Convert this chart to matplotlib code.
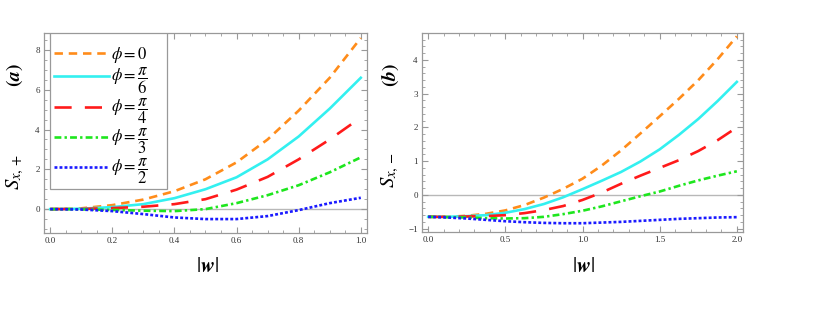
import matplotlib
matplotlib.use('Agg')
import matplotlib.pyplot as plt
from matplotlib.patches import Rectangle
from matplotlib.ticker import MultipleLocator

plt.rcParams['font.family'] = 'Liberation Serif'
plt.rcParams['mathtext.fontset'] = 'stix'

# panel (a): S_{x,+} vs |w|
w_a = [0.0, 0.1, 0.2, 0.3, 0.4, 0.5, 0.6, 0.7, 0.8, 0.9, 1.0]
a_phi0 = [0, 0.04, 0.2, 0.48, 0.9, 1.5, 2.35, 3.5, 4.95, 6.6, 8.6]
a_phi6 = [0, 0.02, 0.1, 0.25, 0.55, 1.0, 1.6, 2.5, 3.65, 5.05, 6.6]
a_phi4 = [0, 0.01, 0.05, 0.12, 0.25, 0.5, 0.98, 1.62, 2.5, 3.5, 4.6]
a_phi3 = [0, -0.01, -0.04, -0.08, -0.1, 0.0, 0.3, 0.7, 1.2, 1.85, 2.6]
a_phi2 = [0, -0.02, -0.1, -0.25, -0.42, -0.5, -0.5, -0.35, -0.05, 0.3, 0.57]

# panel (b): S_{x,-} vs |w|
w_b = [0.0, 0.125, 0.25, 0.375, 0.5, 0.625, 0.75, 0.875, 1.0,
       1.125, 1.25, 1.375, 1.5, 1.625, 1.75, 1.875, 2.0]
b_phi0 = [-0.65, -0.65, -0.62, -0.56, -0.46, -0.3, -0.08, 0.18, 0.48,
          0.87, 1.32, 1.82, 2.33, 2.85, 3.4, 4.02, 4.7]
b_phi6 = [-0.65, -0.65, -0.63, -0.6, -0.53, -0.42, -0.27, -0.07, 0.17,
          0.42, 0.68, 0.99, 1.35, 1.78, 2.25, 2.78, 3.35]
b_phi4 = [-0.65, -0.65, -0.64, -0.63, -0.6, -0.54, -0.45, -0.33, -0.15,
          0.07, 0.33, 0.57, 0.8, 1.03, 1.3, 1.62, 2.0]
b_phi3 = [-0.65, -0.66, -0.67, -0.69, -0.7, -0.69, -0.65, -0.57, -0.47,
          -0.34, -0.19, -0.04, 0.1, 0.27, 0.43, 0.57, 0.7]
b_phi2 = [-0.65, -0.67, -0.7, -0.74, -0.78, -0.81, -0.83, -0.84, -0.84,
          -0.82, -0.8, -0.77, -0.74, -0.71, -0.69, -0.67, -0.66]

labels = [r'$\phi=0$', r'$\phi=\dfrac{\pi}{6}$', r'$\phi=\dfrac{\pi}{4}$',
          r'$\phi=\dfrac{\pi}{3}$', r'$\phi=\dfrac{\pi}{2}$']
colors = ['#ff8c1a', '#33f0f0', '#ff1a1a', '#1ee61e', '#1a1aff']
dashes = [(3.2, 2.2), None, (6.5, 5.0), (2.6, 1.2, 0.9, 1.2), (1.1, 0.8)]

fig = plt.figure(figsize=(8.17, 3.14), dpi=100)
ax_a = fig.add_axes([44/817, 1-233/314, 323/817, 200/314])
ax_b = fig.add_axes([422/817, 1-232/314, 321/817, 199/314])


def draw(ax, x, series):
    ax.axhline(0, color='#b8b8b8', lw=1.0, zorder=1)
    lines = []
    for y, c, d, lab in zip(series, colors, dashes, labels):
        ln, = ax.plot(x, y, color=c, lw=1.9, label=lab, zorder=3)
        if d is not None:
            ln.set_dashes(d)
        lines.append(ln)
    for s in ax.spines.values():
        s.set_color('#999999')
        s.set_linewidth(0.9)
    ax.tick_params(which='both', direction='in', top=True, right=True,
                   color='#999999', labelsize=6.5, labelcolor='#333333', pad=3)
    ax.tick_params(which='major', length=4)
    ax.tick_params(which='minor', length=2)
    return lines


lines = draw(ax_a, w_a, [a_phi0, a_phi6, a_phi4, a_phi3, a_phi2])
ax_a.set_xlim(-0.02, 1.02)
ax_a.set_ylim(-1.2, 8.85)
ax_a.xaxis.set_major_locator(MultipleLocator(0.2))
ax_a.xaxis.set_minor_locator(MultipleLocator(0.05))
ax_a.yaxis.set_major_locator(MultipleLocator(2))
ax_a.yaxis.set_minor_locator(MultipleLocator(0.5))
ax_a.xaxis.set_major_formatter(lambda v, p: f'{v:.1f}')

draw(ax_b, w_b, [b_phi0, b_phi6, b_phi4, b_phi3, b_phi2])
ax_b.set_xlim(-0.04, 2.04)
ax_b.set_ylim(-1.1, 4.8)
ax_b.xaxis.set_major_locator(MultipleLocator(0.5))
ax_b.xaxis.set_minor_locator(MultipleLocator(0.1))
ax_b.yaxis.set_major_locator(MultipleLocator(1))
ax_b.yaxis.set_minor_locator(MultipleLocator(0.2))
ax_b.xaxis.set_major_formatter(lambda v, p: f'{v:.1f}')

# legend with its own frame box
ax_a.add_patch(Rectangle((0.0186, 0.22), 0.362, 0.78, transform=ax_a.transAxes,
                         fill=True, facecolor='white', edgecolor='#999999',
                         lw=0.9, zorder=4))
leg = ax_a.legend(handles=lines, loc='upper left', bbox_to_anchor=(0.0, 0.99),
                  frameon=False, fontsize=12, handlelength=3.3,
                  handletextpad=0.1, labelspacing=0.05, borderaxespad=0.2)
leg.set_zorder(5)

# side labels
fig.text(15/817, 1-75/314, r'$\mathbf{(}\boldsymbol{a}\mathbf{)}$', rotation=90,
         ha='center', va='center', fontsize=14)
fig.text(15/817, 1-172/314, r'$S_{x,+}$', rotation=90, ha='center',
         va='center', fontsize=15)
fig.text(390/817, 1-75/314, r'$\mathbf{(}\boldsymbol{b}\mathbf{)}$', rotation=90,
         ha='center', va='center', fontsize=14)
fig.text(390/817, 1-170/314, r'$S_{x,-}$', rotation=90, ha='center',
         va='center', fontsize=15)
fig.text(207/817, 1-267/314, r'$|\boldsymbol{w}|$', ha='center', va='center',
         fontsize=15)
fig.text(583/817, 1-267/314, r'$|\boldsymbol{w}|$', ha='center', va='center',
         fontsize=15)

fig.savefig('out.png', dpi=100)
